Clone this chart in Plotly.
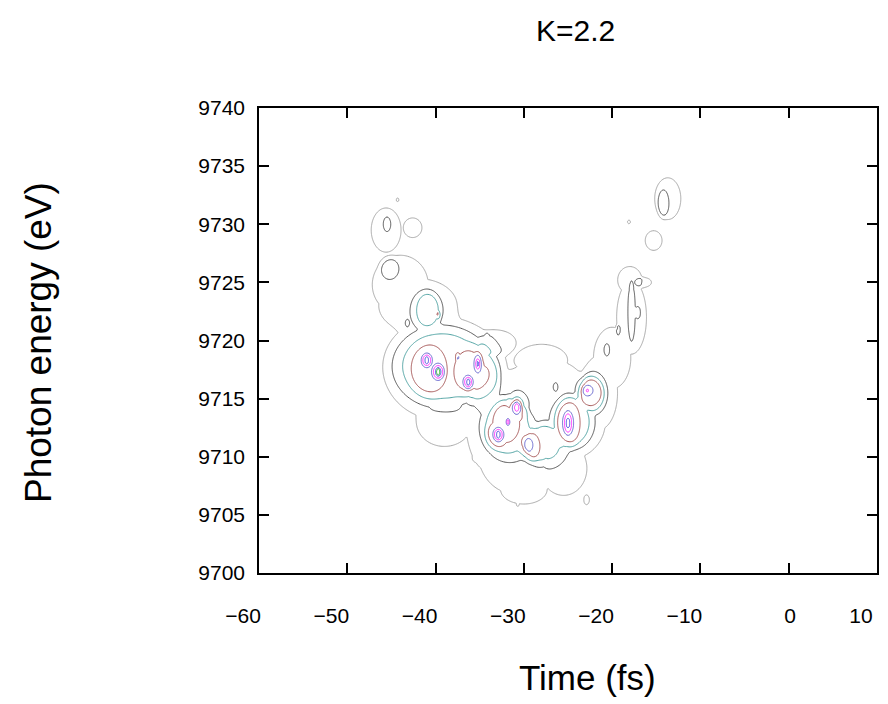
import numpy as np
import plotly.graph_objects as go

# Axis ticks
x_ticks = [-60, -50, -40, -30, -20, -10, 0, 10]
y_ticks = [9700, 9705, 9710, 9715, 9720, 9725, 9730, 9735, 9740]

# Regions for each contour level:
# (centre time fs, centre energy eV, half-width fs, half-width eV)
level1_gray = [
    (-45.6, 9729.5, 1.6, 1.8), (-42.6, 9729.7, 1.0, 0.8), (-44.0, 9724.8, 3.0, 2.4),
    (-42.0, 9723.0, 4.2, 2.2), (-40.0, 9717.5, 5.0, 3.8), (-39.0, 9713.0, 3.0, 2.0),
    (-34.0, 9713.5, 2.5, 4.5), (-31.0, 9710.5, 4.0, 3.5), (-30.0, 9707.2, 2.5, 1.2),
    (-25.5, 9709.0, 2.5, 2.2), (-25.0, 9713.0, 4.0, 3.0), (-21.5, 9715.5, 2.0, 3.0),
    (-28.0, 9718.3, 2.8, 1.3), (-27.5, 9716.3, 4.0, 2.0), (-33.0, 9719.8, 2.0, 1.0),
    (-20.0, 9718.5, 2.0, 2.5), (-17.8, 9722.0, 1.6, 3.0), (-18.0, 9725.2, 1.3, 1.1),
    (-13.7, 9732.2, 1.4, 1.7), (-15.3, 9728.6, 0.9, 0.8), (-44.3, 9732.1, 0.15, 0.15),
    (-18.1, 9730.2, 0.15, 0.15), (-30.7, 9705.9, 0.15, 0.15), (-22.9, 9706.3, 0.3, 0.4),
    (-35.3, 9709.9, 0.5, 0.4),
]
level2_dark = [
    (-45.5, 9730.0, 0.4, 0.6), (-45.2, 9726.2, 1.0, 0.9), (-38.8, 9717.8, 6.0, 3.7),
    (-41.0, 9722.5, 1.8, 1.8), (-34.5, 9716.5, 1.8, 2.5), (-31.5, 9712.5, 3.0, 2.8),
    (-27.5, 9711.0, 2.5, 2.0), (-24.5, 9713.0, 2.5, 2.3), (-22.3, 9715.5, 1.7, 1.8),
    (-17.8, 9722.5, 0.4, 2.5), (-16.5, 9725.0, 0.9, 0.4), (-14.2, 9731.8, 0.6, 1.1),
    (-34.2, 9720.2, 0.3, 0.5), (-19.3, 9720.9, 0.25, 0.45), (-26.4, 9716.0, 0.25, 0.35),
]
level3_teal = [
    (-38.8, 9717.9, 5.3, 2.9), (-40.9, 9722.6, 1.2, 1.4), (-32.0, 9712.5, 2.6, 2.2),
    (-28.0, 9711.2, 2.1, 1.5), (-24.5, 9713.0, 1.9, 1.9), (-22.3, 9715.3, 1.3, 1.4),
    (-20.6, 9719.2, 0.3, 0.5), (-17.1, 9722.4, 0.3, 0.5),
]
level4_brown = [
    (-40.8, 9717.5, 2.0, 2.1), (-35.5, 9717.3, 2.3, 2.1), (-32.0, 9713.0, 1.5, 1.7),
    (-30.8, 9714.3, 1.2, 1.3), (-33.0, 9711.9, 1.2, 1.1), (-29.3, 9710.9, 1.1, 1.2),
    (-25.0, 9712.9, 1.3, 2.0), (-22.6, 9715.6, 1.4, 1.2), (-39.7, 9722.2, 0.2, 0.3),
    (-43.2, 9721.5, 0.2, 0.3),
]
level5_blue = [
    (-41.0, 9718.3, 0.6, 0.6), (-39.7, 9717.3, 0.7, 0.7), (-36.3, 9716.4, 0.6, 0.6),
    (-35.2, 9718.0, 0.5, 0.9), (-37.5, 9718.6, 0.2, 0.3), (-30.8, 9714.3, 0.6, 0.7),
    (-32.9, 9711.9, 0.6, 0.6), (-31.8, 9713.0, 0.2, 0.3), (-29.5, 9711.0, 0.5, 0.6),
    (-25.0, 9712.9, 0.6, 1.0), (-22.8, 9715.7, 0.6, 0.45),
]
level6_magenta = [
    (-41.0, 9718.3, 0.45, 0.45), (-39.7, 9717.3, 0.55, 0.55), (-36.3, 9716.4, 0.45, 0.45),
    (-35.2, 9718.0, 0.3, 0.6), (-30.8, 9714.3, 0.45, 0.5), (-32.9, 9711.9, 0.45, 0.45),
    (-31.8, 9713.0, 0.12, 0.2), (-25.0, 9712.9, 0.4, 0.8), (-22.8, 9715.7, 0.12, 0.12),
]
level7_violet = [
    (-41.0, 9718.3, 0.2, 0.3), (-39.7, 9717.3, 0.3, 0.35), (-36.3, 9716.4, 0.2, 0.3),
    (-35.2, 9718.0, 0.15, 0.3), (-30.8, 9714.3, 0.2, 0.3), (-32.9, 9711.9, 0.2, 0.3),
    (-25.0, 9712.9, 0.2, 0.4),
]
level8_green = [(-39.7, 9717.3, 0.18, 0.3)]

levels = [level1_gray, level2_dark, level3_teal, level4_brown,
          level5_blue, level6_magenta, level7_violet, level8_green]
level_colors = ["#a8a8a8", "#555555", "#4fa3a3", "#a85a5a",
                "#6a6ad0", "#ff33ff", "#5050e0", "#33bb33"]

t = np.arange(-60, 10.001, 0.125)
E = np.arange(9700, 9740.001, 0.0625)
T, EE = np.meshgrid(t, E)
Z = np.zeros_like(T)
for regions in levels:
    layer = np.zeros_like(T)
    for t0, e0, at, ae in regions:
        r2 = ((T - t0) / at) ** 2 + ((EE - e0) / ae) ** 2
        layer = np.maximum(layer, np.exp(-0.5 * r2 ** 3))
    Z += layer
Z = np.round(Z, 3)

n = len(level_colors)
colorscale = [[i / (n - 1), c] for i, c in enumerate(level_colors)]

fig = go.Figure(go.Contour(
    x=t, y=E, z=Z,
    contours=dict(start=0.5, end=n - 0.5, size=1, coloring="lines"),
    colorscale=colorscale, zmin=0.5, zmax=n - 0.5, zauto=False,
    line=dict(width=1), showscale=False, hoverinfo="skip",
))

font = "Liberation Sans, Arial, sans-serif"
axis_common = dict(
    showgrid=False, zeroline=False, showline=True, linecolor="black", linewidth=1.5,
    mirror="allticks", ticks="inside", ticklen=10, tickwidth=1.5, tickcolor="black",
    tickfont=dict(family=font, size=21, color="black"), automargin=False,
)
x_text = [("\u00a0" * 6 + "0") if v == 0 else ("\u2212" + str(abs(v)) if v < 0 else str(v)) for v in x_ticks]
fig.update_xaxes(range=[-60, 10], tickvals=x_ticks, ticktext=x_text,
                 ticklabelstandoff=23, ticklabelshift=-16, **axis_common)
fig.update_yaxes(range=[9700, 9740], tickvals=y_ticks, ticktext=[str(v) for v in y_ticks],
                 ticklabelstandoff=8, **axis_common)

# page has an 8px body margin, so the figure is sized/placed to land the plot at 259..877 x 108..573
W, H = 880, 696
ml, mr, mt, mb = 251, 11, 100, 131
fig.update_layout(
    width=W, height=H,
    margin=dict(l=ml, r=mr, t=mt, b=mb),
    plot_bgcolor="white", paper_bgcolor="white",
    showlegend=False,
)
pw, ph = W - ml - mr, H - mt - mb
def px(xp):
    return (xp - 259) / pw
def py(yp):
    return (573 - yp) / ph
fig.layout.annotations = [
    dict(text="K=2.2", x=px(575), y=py(30), xref="paper", yref="paper", showarrow=False,
         xanchor="center", yanchor="middle", font=dict(family=font, size=30, color="black")),
    dict(text="Time (fs)", x=px(587), y=py(677), xref="paper", yref="paper", showarrow=False,
         xanchor="center", yanchor="middle", font=dict(family=font, size=35, color="black")),
    dict(text="Photon energy (eV)", x=px(38), y=py(342), xref="paper", yref="paper", showarrow=False,
         xanchor="center", yanchor="middle", textangle=-90, font=dict(family=font, size=37, color="black")),
]
fig.write_html("out.html")
